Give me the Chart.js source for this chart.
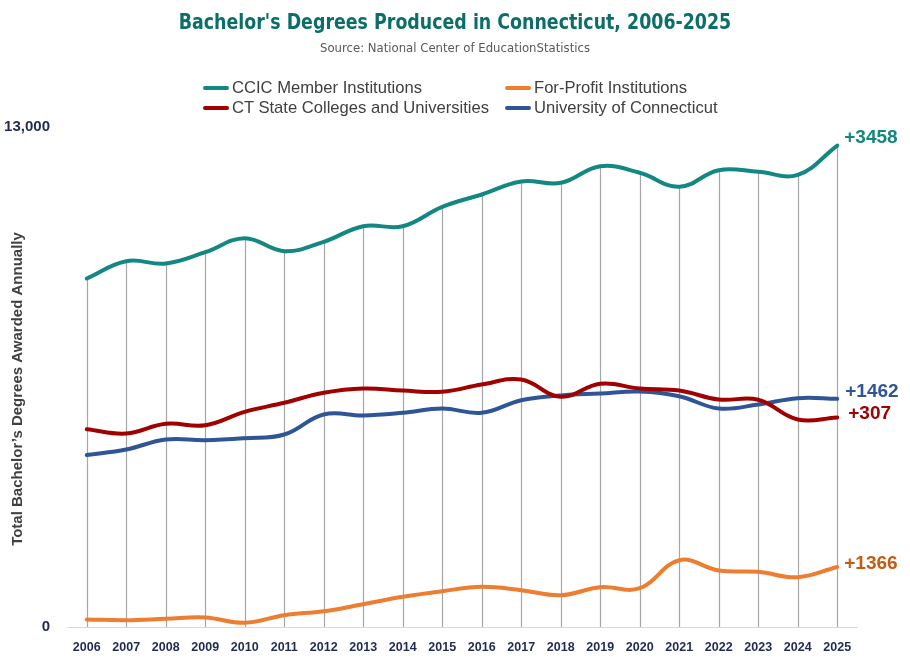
<!DOCTYPE html>
<html>
<head>
<meta charset="utf-8">
<script src="https://cdn.jsdelivr.net/npm/chart.js@4.4.0/dist/chart.umd.min.js"></script>
<style>
  body { margin: 0; background: #fff; }
  #wrap { position: relative; width: 910px; height: 659px; }
  #title {
    position: absolute; top: 9px; left: 0; width: 910px; text-align: center;
    font-family: "Liberation Sans Narrow", "DejaVu Sans Condensed", sans-serif;
    font-weight: bold; font-size: 22px; color: #0c6e69;
    transform: scaleX(0.88); transform-origin: 455px 0;
  }
  #subtitle {
    position: absolute; top: 40px; left: 0; width: 910px; text-align: center;
    font-family: "Liberation Sans Narrow", "DejaVu Sans Condensed", sans-serif;
    font-size: 13px; color: #595959;
  }
  #legend { position: absolute; top: 78px; left: 0; width: 910px; height: 42px; }
  .item {
    position: absolute; height: 20px; line-height: 20px;
    font-family: "Liberation Sans", Arial, sans-serif; font-size: 16.6px; color: #404040;
    white-space: nowrap;
  }
  .item span.mk {
    display: inline-block; width: 26px; height: 4px; border-radius: 2px;
    vertical-align: middle; margin-right: 3px; position: relative; top: -1px;
  }
</style>
</head>
<body>
<div id="wrap">
  <canvas id="myChart" width="910" height="659"></canvas>
  <div id="title">Bachelor's Degrees Produced in Connecticut, 2006-2025</div>
  <div id="subtitle">Source: National Center of EducationStatistics</div>
  <div id="legend"></div>
</div>
<script>
// data
const years = ['2006','2007','2008','2009','2010','2011','2012','2013','2014','2015',
               '2016','2017','2018','2019','2020','2021','2022','2023','2024','2025'];

const ccic = [9060, 9511, 9451, 9745, 10109, 9771, 10015, 10421, 10421, 10925,
              11245, 11583, 11549, 11981, 11809, 11445, 11877, 11835, 11757, 12518];
const forProfit = [195, 177, 213, 247, 109, 307, 411, 593, 785, 931,
                   1045, 957, 827, 1035, 1009, 1737, 1469, 1435, 1295, 1561];
const ctState = [5143, 5031, 5283, 5247, 5595, 5829, 6089, 6201, 6149, 6115,
                 6305, 6435, 5985, 6323, 6201, 6149, 5915, 5907, 5395, 5450];
const uconn = [4470, 4615, 4875, 4857, 4909, 5005, 5525, 5499, 5569, 5681,
               5569, 5897, 6019, 6071, 6123, 6001, 5681, 5785, 5949, 5932];

const seriesNames = ['CCIC Member Institutions', 'For-Profit Institutions',
                     'CT State Colleges and Universities', 'University of Connecticut'];
const endLabels = ['+3458', '+1366', '+307', '+1462'];
const yTicks = [0, 13000];
const yTitle = 'Total Bachelor\u2019s Degrees Awarded Annually';

const colors = ['#138781', '#ed7d31', '#a00000', '#2f5597'];
const labelColors = ['#138781', '#c55a11', '#a00000', '#2f5597'];
const labelNudge = [-8, -3, -4, -7];
const labelShift = [7, 7, 11, 8];

// vertical drop lines from top series to the axis
const dropLines = {
  id: 'dropLines',
  beforeDatasetsDraw(chart) {
    const ctx = chart.ctx;
    const x = chart.scales.x, y = chart.scales.y;
    ctx.save();
    ctx.strokeStyle = '#a6a6a6';
    ctx.lineWidth = 1.2;
    years.forEach((yr, i) => {
      let top = Math.max(...chart.data.datasets.map(d => d.data[i]));
      let px = Math.round(x.getPixelForValue(i)) + 0.5;
      ctx.beginPath();
      ctx.moveTo(px, y.getPixelForValue(top));
      ctx.lineTo(px, y.getPixelForValue(0));
      ctx.stroke();
    });
    ctx.restore();
  }
};

// labels at the end of each line + the rotated axis title
const endLabelPlugin = {
  id: 'endLabels',
  afterDatasetsDraw(chart) {
    const ctx = chart.ctx;
    ctx.save();
    ctx.font = 'bold 19px "Liberation Sans", Arial, sans-serif';
    ctx.textBaseline = 'middle';
    chart.data.datasets.forEach((d, i) => {
      let meta = chart.getDatasetMeta(i);
      let pt = meta.data[meta.data.length - 1];
      ctx.fillStyle = labelColors[i];
      ctx.fillText(endLabels[i], pt.x + labelShift[i], pt.y + labelNudge[i]);
    });
    // y axis title
    let area = chart.chartArea;
    ctx.translate(18, (area.top + area.bottom) / 2 + 12);
    ctx.rotate(-Math.PI / 2);
    ctx.font = 'bold 15px "Liberation Sans", Arial, sans-serif';
    ctx.fillStyle = '#404040';
    ctx.textAlign = 'center';
    ctx.fillText(yTitle, 0, 0);
    ctx.restore();
  }
};

const allSeries = [ccic, forProfit, ctState, uconn];

const ctx = document.getElementById('myChart');
const myChart = new Chart(ctx, {
  type: 'line',
  data: {
    labels: years,
    datasets: allSeries.map((s, i) => ({
      label: seriesNames[i],
      data: s,
      borderColor: colors[i],
      backgroundColor: colors[i],
      borderWidth: 4,
      tension: 0.4,
      pointRadius: 0,
      fill: false,
      borderCapStyle: 'round'
    }))
  },
  options: {
    responsive: false,
    animation: false,
    layout: { padding: { top: 127, right: 53, left: 0, bottom: 0 } },
    plugins: {
      legend: { display: false },
      tooltip: { enabled: false }
    },
    scales: {
      x: {
        offset: true,
        afterFit(scale) { scale.height = 32; },
        grid: { display: false, drawTicks: false },
        border: { color: '#d9d9d9', width: 1 },
        ticks: {
          color: '#1f2a55',
          padding: 13,
          maxRotation: 0,
          autoSkip: false,
          font: { family: '"Liberation Sans", Arial, sans-serif', weight: 'bold', size: 12.5 }
        }
      },
      y: {
        min: 0,
        max: 13000,
        afterBuildTicks(scale) { scale.ticks = yTicks.map(v => ({ value: v })); },
        afterFit(scale) { scale.width = 67; },
        grid: { display: false, drawTicks: false },
        border: { display: false },
        ticks: {
          color: '#1f2a55',
          padding: 17,
          callback: v => v.toLocaleString('en-US'),
          font: { family: '"Liberation Sans", Arial, sans-serif', weight: 'bold', size: 15 }
        }
      }
    }
  },
  plugins: [dropLines, endLabelPlugin]
});

// two column legend built from the datasets
const legendPos = [[203, 0], [505, 0], [203, 20], [505, 20]];
const legend = document.getElementById('legend');
myChart.data.datasets.forEach((d, i) => {
  let div = document.createElement('div');
  div.className = 'item';
  div.style.left = legendPos[i][0] + 'px';
  div.style.top = legendPos[i][1] + 'px';
  div.innerHTML = '<span class="mk" style="background:' + d.borderColor + '"></span>' + d.label;
  legend.appendChild(div);
});
</script>
</body>
</html>
